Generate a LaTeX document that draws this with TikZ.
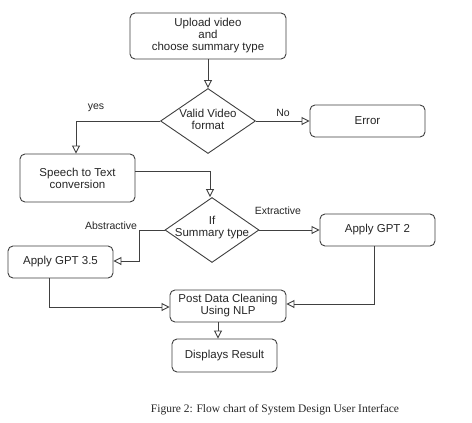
\documentclass[tikz,border=0pt]{standalone}
\usepackage{fontspec}
\setmainfont{Liberation Sans}
\newfontfamily\capfont{Liberation Serif}
\usetikzlibrary{shapes.geometric,arrows.meta}
\begin{document}
\begin{tikzpicture}[x=1pt,y=-1pt,
  line width=0.9pt,
  every node/.style={text=black!85},
  boxnode/.style={draw=black!75,rounded corners=5pt,inner sep=0pt,align=center,font=\fontsize{11.5}{12}\selectfont},
  decnode/.style={draw=black!75,shape=diamond,inner sep=0pt,minimum width=95pt,minimum height=65pt},
  dectext/.style={align=center,font=\fontsize{11.5}{12}\selectfont,inner sep=0pt},
  lbl/.style={font=\fontsize{10.5}{12}\selectfont,inner sep=0pt},
  flow/.style={draw=black!75,-{Triangle[open,length=8pt,width=8pt]}}]
\useasboundingbox (0,0) rectangle (472,423);
\fill[white] (0,0) rectangle (472,423);
% boxes
\node[boxnode,minimum width=156pt,minimum height=46pt] (upload) at (208,36) {Upload video\\and\\choose summary type};
\node[decnode] (valid) at (208,121) {};
\node[dectext] (validt) at (208,119) {Valid Video\\format};
\node[boxnode,minimum width=115pt,minimum height=32pt] (error) at (367.5,121) {Error};
\node[boxnode,minimum width=115pt,minimum height=48pt] (speech) at (77.5,178) {Speech to Text\\conversion};
\node[decnode,minimum width=94pt] (ifs) at (212,230) {};
\node[dectext] (ifst) at (212,228) {If\\Summary type};
\node[boxnode,minimum width=105pt,minimum height=32pt] (gpt35) at (60.5,262) {Apply GPT 3.5};
\node[boxnode,minimum width=115pt,minimum height=32pt] (gpt2) at (377.5,230) {Apply GPT 2};
\node[boxnode,minimum width=116pt,minimum height=32pt] (post) at (228,306) {Post Data Cleaning\\Using NLP};
\node[boxnode,minimum width=105pt,minimum height=33pt] (disp) at (224.5,355.5) {Displays Result};
% labels
\node[lbl] (yes) at (96,108) {yes};
\node[lbl] (no) at (283,113) {No};
\node[lbl] (extr) at (278,211) {Extractive};
\node[lbl] (abstr) at (111,226) {Abstractive};
\node[font=\capfont\fontsize{11.5}{13}\selectfont,inner sep=0pt] (cap) at (275,410) {Figure 2: Flow chart of System Design User Interface};
% helper coordinates
\coordinate (yesx) at (76,0);
\coordinate (spy) at (0,171);
\coordinate (ifx) at (210,0);
\coordinate (abend) at (139,261);
\coordinate (g35x) at (49,0);
\coordinate (g35y) at (0,307);
\coordinate (g2x) at (374,0);
\coordinate (g2y) at (0,304);
\coordinate (px) at (218,0);
% connectors
\draw[flow] (upload.south) -- (valid.north);
\draw[flow] (valid.east) -- (error.west);
\draw[flow] (valid.west) -| (speech.north -| yesx);
\draw[flow] (speech.east |- spy) -| (ifs.north -| ifx);
\draw[flow] (ifs.east) -- (gpt2.west);
\draw[flow] (ifs.west) -| (abend) -- (gpt35.east |- abend);
\draw[flow] (gpt35.south -| g35x) |- (post.west |- g35y);
\draw[flow] (gpt2.south -| g2x) |- (post.east |- g2y);
\draw[flow] (post.south -| px) -- (disp.north -| px);
\end{tikzpicture}
\end{document}
